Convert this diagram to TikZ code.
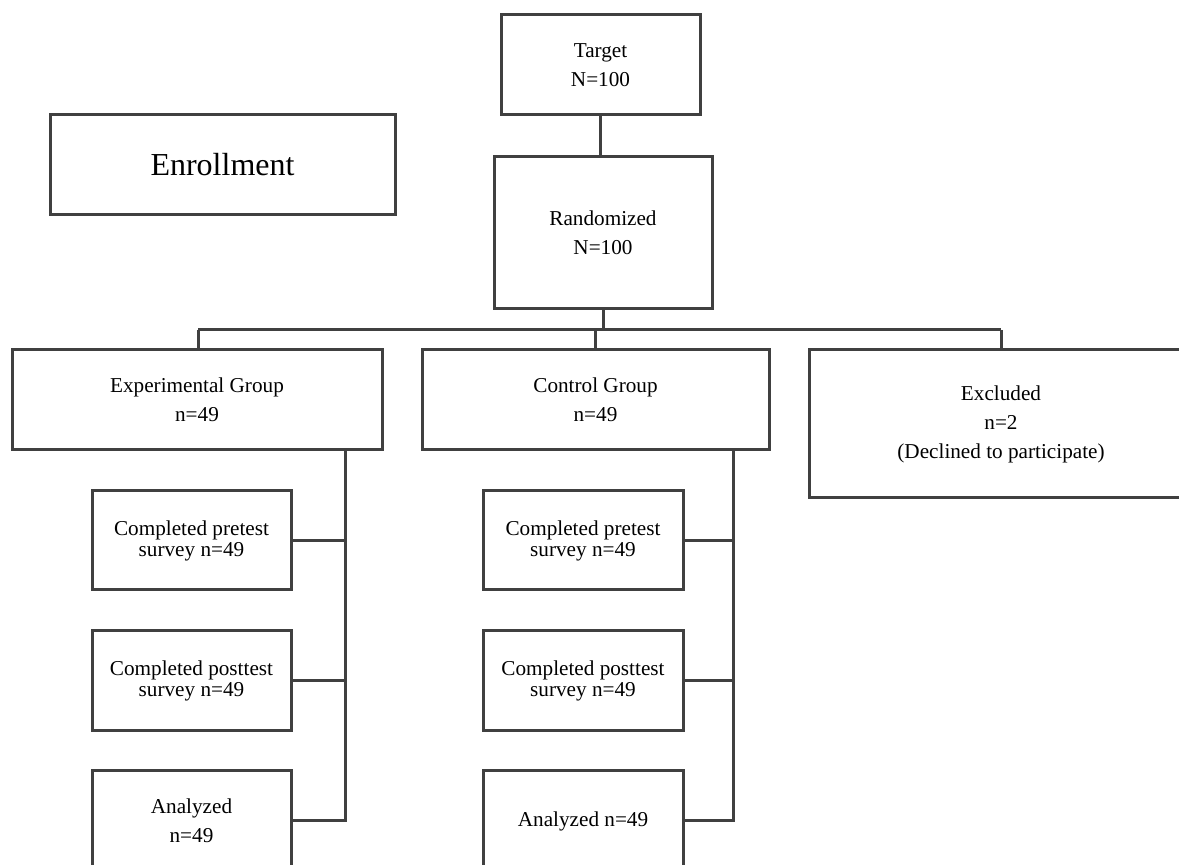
\documentclass[tikz,border=0pt]{standalone}
\usepackage{fontspec}
\setmainfont{Liberation Serif}
\begin{document}
\begin{tikzpicture}[x=0.5pt,y=-0.5pt,
  box/.style={draw=black!75, line width=1.5pt, inner sep=0pt, align=center,
    font=\fontsize{10.6}{14.5}\selectfont},
  tightbox/.style={box, font=\fontsize{10.6}{10.5}\selectfont},
  conn/.style={draw=black!75, line width=1.5pt}]
\useasboundingbox (0,0) rectangle (1179,865);
\clip (0,0) rectangle (1179,865);
\fill[white] (0,0) rectangle (1179,865);
% top
\node[box, minimum width=99.5pt, minimum height=50pt] (T) at (600.5,65) {Target\\N=100};
\node[box, minimum width=109pt, minimum height=76pt] (R) at (603,233) {Randomized\\N=100};
\node[box, minimum width=172.5pt, minimum height=50pt, font=\fontsize{16}{19}\selectfont] (EN) at (222.5,165) {Enrollment};
% groups
\node[box, minimum width=185pt, minimum height=50pt] (E) at (197,400) {Experimental Group\\n=49};
\node[box, minimum width=173.5pt, minimum height=50pt] (C) at (595.5,400) {Control Group\\n=49};
\node[box, minimum width=192pt, minimum height=74pt] (X) at (1001,424) {Excluded\\n=2\\(Declined to participate)};
% experimental column
\node[tightbox, minimum width=99.5pt, minimum height=49.5pt] (EP) at (191.5,540.5) {Completed pretest\\survey n=49};
\node[tightbox, minimum width=99.5pt, minimum height=50pt] (EQ) at (191.5,681) {Completed posttest\\survey n=49};
\node[box, minimum width=99.5pt, minimum height=50pt] (EA) at (191.5,821) {Analyzed\\n=49};
% control column
\node[tightbox, minimum width=100pt, minimum height=49.5pt] (CP) at (583,540.5) {Completed pretest\\survey n=49};
\node[tightbox, minimum width=100pt, minimum height=50pt] (CQ) at (583,681) {Completed posttest\\survey n=49};
\node[box, minimum width=100pt, minimum height=50pt] (CA) at (583,821) {Analyzed n=49};
% bus coordinates
\coordinate (busL) at (198,330);
\coordinate (busR) at (1001,330);
\coordinate (etr) at (345,0);
\coordinate (ctr) at (733,0);
% connectors
\draw[conn] (T.south) -- (T.south |- R.north);
\draw[conn] (R.south) -- (R.south |- busL);
\draw[conn] (busL) -- (busR);
\draw[conn] (busL) -- (busL |- E.north);
\draw[conn] (C.north |- busL) -- (C.north);
\draw[conn] (busR) -- (busR |- X.north);
\draw[conn] (E.south -| etr) -- (EA.east -| etr) -- (EA.east);
\draw[conn] (EP.east) -- (EP.east -| etr);
\draw[conn] (EQ.east) -- (EQ.east -| etr);
\draw[conn] (C.south -| ctr) -- (CA.east -| ctr) -- (CA.east);
\draw[conn] (CP.east) -- (CP.east -| ctr);
\draw[conn] (CQ.east) -- (CQ.east -| ctr);
\end{tikzpicture}
\end{document}
